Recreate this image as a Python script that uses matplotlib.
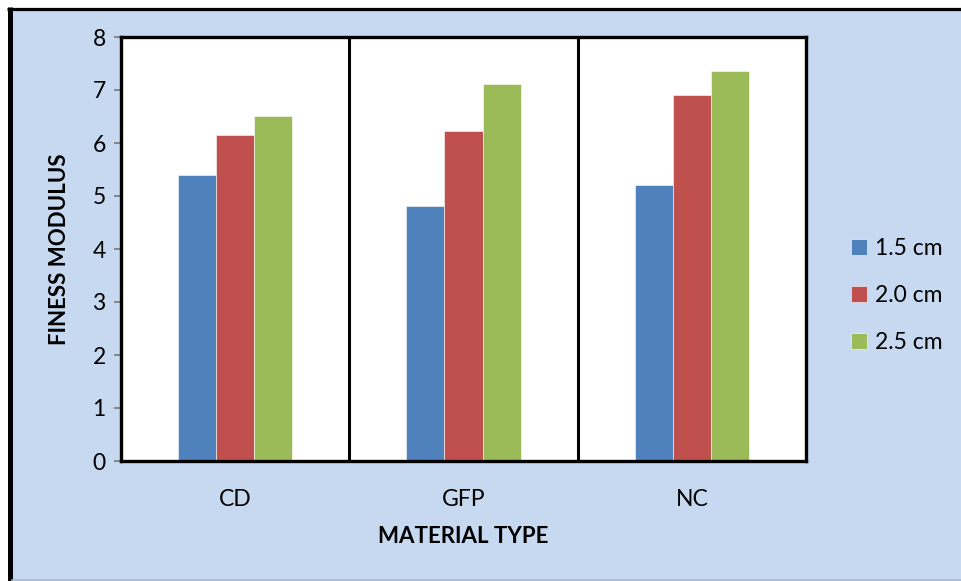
import matplotlib.pyplot as plt
import numpy as np
from matplotlib.patches import Rectangle
from matplotlib.lines import Line2D

plt.rcParams["font.family"] = ["Lato", "DejaVu Sans"]

materials = ["CD", "GFP", "NC"]
series_names = ["1.5 cm", "2.0 cm", "2.5 cm"]
fm_15 = [5.40, 4.81, 5.21]
fm_20 = [6.15, 6.23, 6.91]
fm_25 = [6.51, 7.11, 7.36]
colors = ["#4F81BD", "#C0504D", "#9BBB59"]

W, H = 962, 581
fig = plt.figure(figsize=(W / 100, H / 100), dpi=100)
fig.patch.set_facecolor("white")

# light blue chart area with a black edge on left and top
fig.add_artist(Rectangle((12 / W, 1 - 579 / H), (W - 12) / W, (579 - 10) / H,
                         transform=fig.transFigure, facecolor="#C6D9F1",
                         edgecolor="none", zorder=0))
fig.add_artist(Line2D([9.5 / W, 9.5 / W], [0, 1 - 7 / H], transform=fig.transFigure,
                      color="black", lw=3.6, solid_capstyle="butt"))
fig.add_artist(Line2D([7 / W, 1], [1 - 8.5 / H, 1 - 8.5 / H], transform=fig.transFigure,
                      color="black", lw=2.3, solid_capstyle="butt"))
fig.add_artist(Line2D([12 / W, 1], [1 - 580 / H, 1 - 580 / H], transform=fig.transFigure,
                      color="#9FB3CC", lw=1.2))

ax = fig.add_axes([121 / W, 1 - 461 / H, (806 - 121) / W, (461 - 37) / H])
ax.set_facecolor("white")

x = np.arange(len(materials))
w = 0.167
for i, (vals, name) in enumerate(zip([fm_15, fm_20, fm_25], series_names)):
    ax.bar(x + (i - 1) * w, vals, width=w, color=colors[i], edgecolor="white",
           linewidth=0.4, label=name, zorder=2)

for sep in [0.5, 1.5]:
    ax.axvline(sep, color="black", lw=2.2, zorder=3)

ax.set_xlim(-0.5, 2.5)
ax.set_ylim(0, 8)
ax.set_yticks(range(0, 9))
ax.set_xticks(x)
ax.set_xticklabels(materials)
ax.tick_params(axis="y", direction="out", length=5, width=1.3, color="#808080",
               labelsize=16.5, pad=6)
ax.tick_params(axis="x", length=0, labelsize=16.5, pad=20)

for s in ax.spines.values():
    s.set_color("black")
    s.set_linewidth(2.4)

ax.set_xlabel("MATERIAL TYPE", fontsize=16, fontweight="bold", labelpad=12)
ax.set_ylabel("FINESS MODULUS", fontsize=16, fontweight="bold", labelpad=16)

leg = ax.legend(loc="center left", bbox_to_anchor=(1.035, 0.39), frameon=False,
                fontsize=16.5, handlelength=0.7, handleheight=0.7,
                handletextpad=0.35, labelspacing=1.15)

fig.savefig("out.png", dpi=100, facecolor=fig.get_facecolor())
